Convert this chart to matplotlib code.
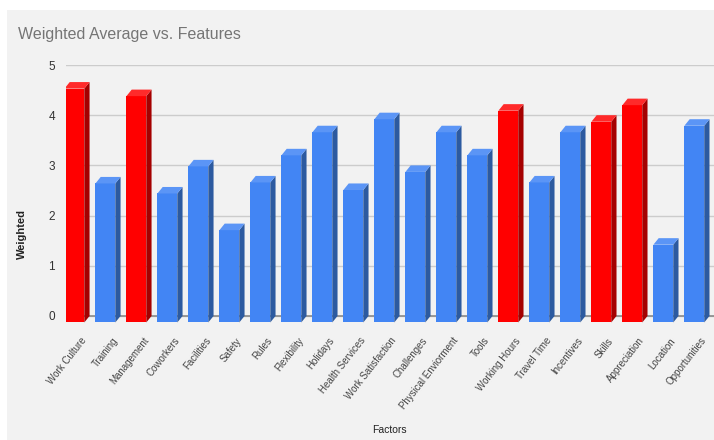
import matplotlib
matplotlib.use("Agg")
import matplotlib.pyplot as plt
from matplotlib.patches import Polygon, Rectangle

# --- Data ---
factors = ["Work Culture", "Training", "Management", "Coworkers", "Facilities",
           "Safety", "Rules", "Flexibility", "Holidays", "Health Services",
           "Work Satisfaction", "Challenges", "Physical Enviorment", "Tools",
           "Working Hours", "Travel Time", "Incentives", "Skills",
           "Appreciation", "Location", "Opportunities"]
weighted = [4.66, 2.77, 4.51, 2.57, 3.11, 1.84, 2.79, 3.33, 3.79, 2.64,
            4.05, 3.00, 3.79, 3.33, 4.22, 2.79, 3.79, 4.00, 4.33, 1.55, 3.92]
highlight = ["Work Culture", "Management", "Working Hours", "Skills", "Appreciation"]

# --- Style ---
BG = "#f2f2f2"
FRONT = {"blue": "#4285f4", "red": "#ff0000"}
SIDE = {"blue": "#2c5aa0", "red": "#a50000"}
TOP = {"blue": "#5b95f6", "red": "#ff2a2a"}
W = 0.64     # front face width
DX = 0.17    # depth offset in x (data units)
DY = 0.13    # depth offset in y (data units)

plt.rcParams["font.family"] = ["Liberation Sans", "DejaVu Sans"]

fig = plt.figure(figsize=(7.14, 4.40), dpi=100)
fig.patch.set_facecolor("white")
# grey chart card behind everything
card = Rectangle((7 / 714, 0), 1, 1 - 10 / 440, transform=fig.transFigure,
                 facecolor=BG, edgecolor="none", zorder=-10)
fig.add_artist(card)

ax = fig.add_axes([66 / 714, (440 - 326) / 440, 1 - 66 / 714, (326 - 65) / 440])
ax.set_zorder(1)
ax.set_facecolor(BG)

xs = list(range(len(factors)))
for i, (name, v) in enumerate(zip(factors, weighted)):
    c = "red" if name in highlight else "blue"
    x0 = i - W / 2 - DX / 2
    x1 = x0 + W
    # front face
    ax.add_patch(Rectangle((x0, -DY), W, v, facecolor=FRONT[c], edgecolor="none", zorder=3))
    # side face
    ax.add_patch(Polygon([(x1, -DY), (x1 + DX, 0), (x1 + DX, v), (x1, v - DY)],
                         closed=True, facecolor=SIDE[c], edgecolor="none", zorder=3))
    # top face
    ax.add_patch(Polygon([(x0, v - DY), (x0 + DX, v), (x1 + DX, v), (x1, v - DY)],
                         closed=True, facecolor=TOP[c], edgecolor="none", zorder=3))

ax.set_xlim(-0.355, 20.55)
ax.set_ylim(-0.2, 5.0)
ax.set_yticks([0, 1, 2, 3, 4, 5])
ax.yaxis.grid(True, color="#cccccc", linewidth=1, zorder=1)
ax.axhline(0, color="#8a8a8a", linewidth=1.2, zorder=2)
ax.set_axisbelow(True)
for s in ax.spines.values():
    s.set_visible(False)
ax.tick_params(axis="y", length=0, pad=8, labelsize=8.5, labelcolor="#333333")
ax.tick_params(axis="x", length=0, pad=7, labelsize=7, labelcolor="#444444")
ax.set_xticks([x + 0.12 for x in xs])
ax.set_xticklabels(factors, rotation=52, ha="right", rotation_mode="anchor")

fig.text(18 / 714, 1 - 34 / 440, "Weighted Average vs. Features", fontsize=11.5,
         color="#757575", va="center", ha="left")
fig.text(22 / 714, 1 - 234 / 440, "Weighted", rotation=90, fontsize=8,
         fontweight="bold", color="#222222", va="center", ha="center")
fig.text(389 / 714, 1 - 430 / 440, "Factors", fontsize=7.5, color="#222222",
         va="center", ha="center")

fig.savefig("out.png", dpi=100, facecolor=fig.get_facecolor())
